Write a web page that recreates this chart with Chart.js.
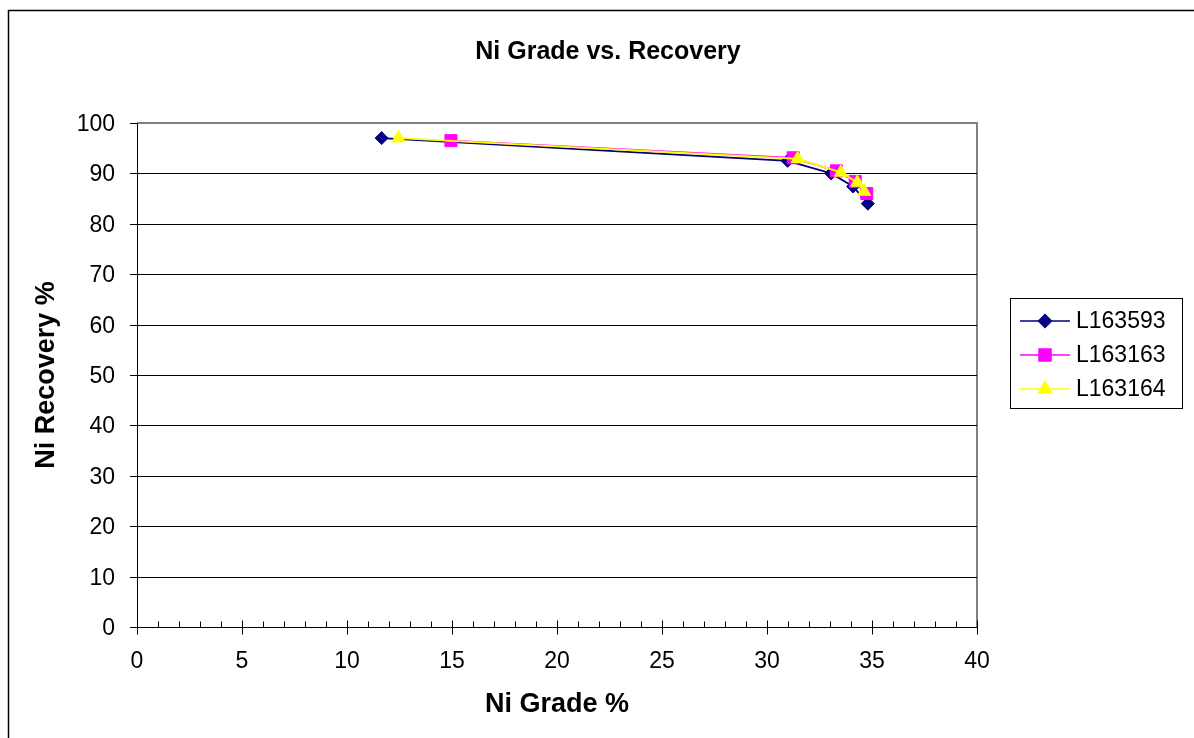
<!DOCTYPE html>
<html>
<head>
<meta charset="utf-8">
<script src="https://cdn.jsdelivr.net/npm/chart.js@4/dist/chart.umd.min.js"></script>
<style>
  html, body { margin: 0; padding: 0; background: #fff; }
  #wrap { position: relative; width: 1194px; height: 738px; }
</style>
</head>
<body>
<div id="wrap"><canvas id="chart" width="1194" height="738"></canvas></div>
<script>
// Chart data
const seriesNames = ['L163593', 'L163163', 'L163164'];
const gradeL163593 = [11.65, 30.98, 33.05, 34.1, 34.8];
const recovL163593 = [97.0, 92.5, 90.0, 87.4, 84.0];
const gradeL163163 = [14.95, 31.25, 33.3, 34.2, 34.75];
const recovL163163 = [96.5, 93.1, 90.5, 88.4, 86.0];
const gradeL163164 = [12.45, 31.46, 33.52, 34.3, 34.63];
const recovL163164 = [97.0, 92.9, 90.2, 88.2, 86.4];
const xTicks = [0, 5, 10, 15, 20, 25, 30, 35, 40];
const yTicks = [0, 10, 20, 30, 40, 50, 60, 70, 80, 90, 100];

const FONT = '"Liberation Sans", Arial, sans-serif';

function toPoints(xs, ys) {
  return xs.map((x, i) => ({ x: x, y: ys[i] }));
}

// Frame, axes, ticks, titles and legend
const decorPlugin = {
  id: 'decor',
  beforeDraw(chart) {
    const ctx = chart.ctx;
    ctx.save();
    ctx.fillStyle = '#fff';
    ctx.fillRect(0, 0, chart.width, chart.height);
    ctx.strokeStyle = '#000';
    ctx.lineWidth = 1.5;
    ctx.beginPath();
    ctx.moveTo(8.5, chart.height);
    ctx.lineTo(8.5, 10.5);
    ctx.lineTo(chart.width, 10.5);
    ctx.stroke();
    ctx.restore();
  },
  beforeDatasetsDraw(chart) {
    const ctx = chart.ctx;
    const a = chart.chartArea;
    const xs = chart.scales.x, ys = chart.scales.y;
    ctx.save();
    // gray plot border top/right
    ctx.strokeStyle = '#808080';
    ctx.lineWidth = 2;
    ctx.beginPath();
    ctx.moveTo(a.left, a.top);
    ctx.lineTo(a.right, a.top);
    ctx.lineTo(a.right, a.bottom);
    ctx.stroke();
    // horizontal gridlines
    ctx.strokeStyle = '#000';
    ctx.lineWidth = 1;
    yTicks.forEach(v => {
      if (v === 0 || v === 100) return;
      const py = Math.round(ys.getPixelForValue(v)) + 0.5;
      ctx.beginPath();
      ctx.moveTo(a.left, py);
      ctx.lineTo(a.right, py);
      ctx.stroke();
    });
    // axes
    ctx.beginPath();
    ctx.moveTo(a.left + 0.5, a.top);
    ctx.lineTo(a.left + 0.5, a.bottom + 0.5);
    ctx.lineTo(a.right, a.bottom + 0.5);
    ctx.stroke();
    // y ticks
    ctx.fillStyle = '#000';
    ctx.font = '23px ' + FONT;
    ctx.textAlign = 'right';
    ctx.textBaseline = 'middle';
    yTicks.forEach(v => {
      const py = Math.round(ys.getPixelForValue(v)) + 0.5;
      ctx.beginPath();
      ctx.moveTo(a.left - 7, py);
      ctx.lineTo(a.left, py);
      ctx.stroke();
      ctx.fillText(String(v), a.left - 22, py + 1);
    });
    // x ticks (minor every 1, major every 5)
    const by = a.bottom + 0.5;
    for (let v = 0; v <= 40; v++) {
      const px = Math.round(xs.getPixelForValue(v)) + 0.5;
      ctx.beginPath();
      if (v % 5 === 0) {
        ctx.moveTo(px, by - 7);
        ctx.lineTo(px, by + 7);
      } else {
        ctx.moveTo(px, by - 6);
        ctx.lineTo(px, by);
      }
      ctx.stroke();
    }
    ctx.textAlign = 'center';
    ctx.textBaseline = 'middle';
    xTicks.forEach(v => {
      ctx.fillText(String(v), xs.getPixelForValue(v), a.bottom + 35);
    });
    // titles
    ctx.font = 'bold 25px ' + FONT;
    ctx.fillText('Ni Grade vs. Recovery', 608, 52);
    ctx.font = 'bold 27px ' + FONT;
    ctx.fillText('Ni Grade %', (a.left + a.right) / 2, 705);
    ctx.save();
    ctx.translate(47, (a.top + a.bottom) / 2);
    ctx.rotate(-Math.PI / 2);
    ctx.fillText('Ni Recovery %', 0, 0);
    ctx.restore();
    ctx.restore();
  },
  afterDraw(chart) {
    const ctx = chart.ctx;
    ctx.save();
    // legend box
    ctx.strokeStyle = '#000';
    ctx.lineWidth = 1;
    ctx.strokeRect(1010.5, 298.5, 172, 110);
    ctx.font = '23px ' + FONT;
    ctx.textAlign = 'left';
    ctx.textBaseline = 'middle';
    chart.data.datasets.forEach((ds, i) => {
      const y = 321 + i * 34;
      ctx.strokeStyle = ds.borderColor;
      ctx.lineWidth = 1.5;
      ctx.beginPath();
      ctx.moveTo(1020, y);
      ctx.lineTo(1070, y);
      ctx.stroke();
      ctx.fillStyle = ds.pointBackgroundColor;
      ctx.strokeStyle = ds.pointBorderColor;
      Chart.helpers.drawPoint(ctx, {
        pointStyle: ds.pointStyle,
        radius: ds.pointRadius,
        borderWidth: 1,
        rotation: 0
      }, 1045, y);
      ctx.fillStyle = '#000';
      ctx.fillText(ds.label, 1076, y + 1);
    });
    ctx.restore();
  }
};

function makeDataset(i, xs, ys, color, style, radius, order) {
  return {
    label: seriesNames[i],
    data: toPoints(xs, ys),
    showLine: true,
    borderColor: color,
    borderWidth: 1.8,
    pointStyle: style,
    pointRadius: radius,
    pointHoverRadius: radius,
    pointBackgroundColor: color,
    pointBorderColor: color,
    pointBorderWidth: 1,
    order: order
  };
}

new Chart(document.getElementById('chart').getContext('2d'), {
  type: 'scatter',
  data: {
    datasets: [
      makeDataset(0, gradeL163593, recovL163593, '#000080', 'rectRot', 6.5, 3),
      makeDataset(1, gradeL163163, recovL163163, '#FF00FF', 'rect', 8.5, 2),
      makeDataset(2, gradeL163164, recovL163164, '#FFFF00', 'triangle', 7.5, 1)
    ]
  },
  plugins: [decorPlugin],
  options: {
    responsive: false,
    animation: false,
    devicePixelRatio: 1,
    clip: false,
    layout: { padding: { top: 123, right: 217, left: 0, bottom: 0 } },
    plugins: {
      legend: { display: false },
      title: { display: false },
      tooltip: { enabled: false }
    },
    scales: {
      x: {
        type: 'linear',
        min: 0,
        max: 40,
        display: true,
        grid: { display: false, drawTicks: false },
        border: { display: false },
        ticks: { display: false },
        afterFit(scale) { scale.height = 111; }
      },
      y: {
        type: 'linear',
        min: 0,
        max: 100,
        display: true,
        grid: { display: false, drawTicks: false },
        border: { display: false },
        ticks: { display: false },
        afterFit(scale) { scale.width = 137; }
      }
    }
  }
});
</script>
</body>
</html>
